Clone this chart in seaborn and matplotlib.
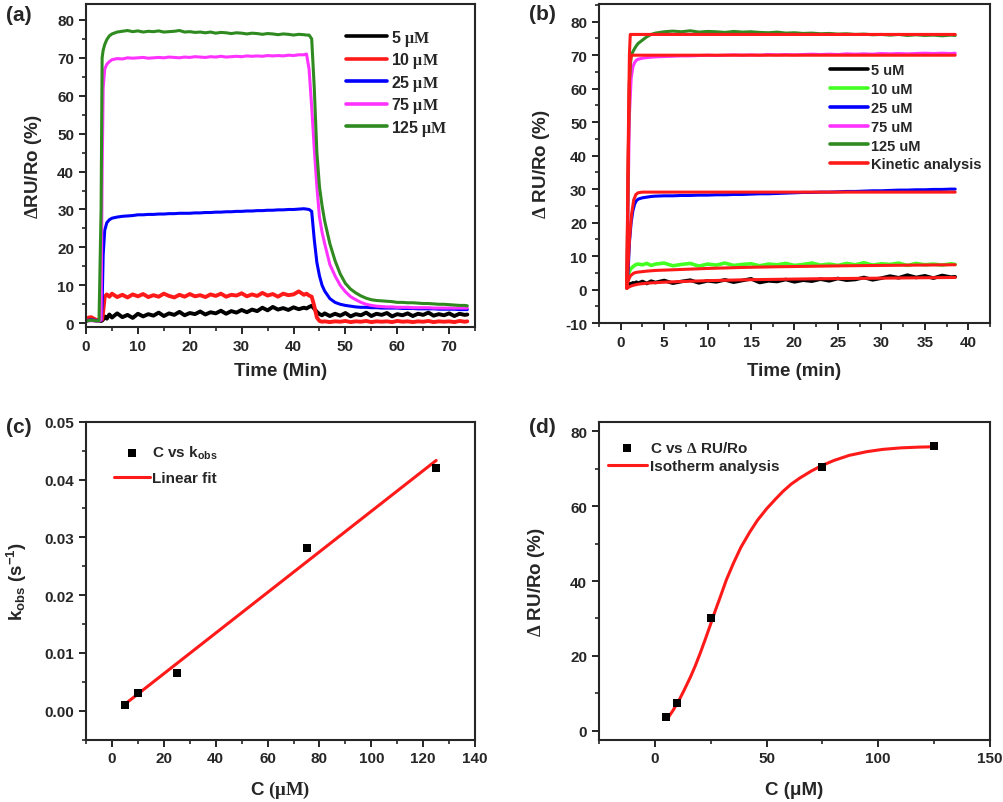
import matplotlib
matplotlib.use("Agg")
import matplotlib.pyplot as plt
import seaborn as sns
from matplotlib.ticker import MultipleLocator, FormatStrFormatter

sns.set_style("ticks")
plt.rcParams['font.family'] = ['Liberation Sans', 'DejaVu Sans']
plt.rcParams['font.weight'] = 'bold'
plt.rcParams['axes.unicode_minus'] = False
plt.rcParams['mathtext.fontset'] = 'custom'
plt.rcParams['mathtext.rm'] = 'Liberation Serif'
plt.rcParams['mathtext.it'] = 'Liberation Serif:italic'
plt.rcParams['mathtext.bf'] = 'Liberation Sans:bold'

# (a) sensorgrams, time in min
t_a = [0.0, 0.5, 1.0, 1.5, 2.0, 2.5, 2.9, 3.1, 3.3, 3.6,
       4.0, 4.5, 5, 6, 7, 8, 9, 10, 11, 12,
       13, 14, 15, 16, 17, 18, 19, 20, 21, 22,
       23, 24, 25, 26, 27, 28, 29, 30, 31, 32,
       33, 34, 35, 36, 37, 38, 39, 40, 41, 42,
       42.5, 43, 43.5, 44, 44.5, 45, 45.5, 46, 47, 48,
       49, 50, 51, 52, 53, 54, 55, 56, 57, 58,
       59, 60, 61, 62, 63, 64, 65, 66, 67, 68,
       69, 70, 71, 72, 73, 73.5]
a_5 = [0.6, 1.2, 1.3, 1.0, 0.7, 0.6, 0.6, 0.7, 1.0, 1.8,
       1.2, 2.3, 1.5, 2.6, 1.6, 2.2, 1.4, 2.5, 1.8, 2.4,
       2.0, 2.8, 1.9, 2.6, 2.2, 3.0, 2.1, 2.7, 2.4, 3.1,
       2.3, 2.9, 2.6, 3.3, 2.5, 3.2, 2.8, 3.5, 2.9, 3.6,
       3.2, 4.1, 3.4, 4.3, 3.6, 4.0, 3.5, 4.2, 3.7, 4.1,
       3.9, 4.3, 4.6, 3.8, 3.0, 2.4, 2.1, 2.6, 1.9, 2.5,
       2.0, 2.7, 1.8, 2.4, 2.1, 2.8, 1.9, 2.5, 2.2, 2.7,
       1.8, 2.4, 2.1, 2.6, 1.9, 2.5, 2.2, 2.8, 2.0, 2.4,
       2.1, 2.6, 1.9, 2.5, 2.2, 2.3]
a_10 = [1.0, 1.5, 1.6, 1.2, 0.9, 0.8, 0.8, 1.0, 3.0, 7.0,
        7.6, 7.0, 7.8, 6.9, 7.5, 6.8, 7.6, 7.1, 7.7, 6.9,
        7.4, 7.0, 7.8, 7.2, 6.8, 7.5, 7.0, 7.7, 7.1, 7.4,
        6.9, 7.6, 7.2, 7.8, 7.0, 7.5, 7.3, 7.9, 7.1, 7.6,
        7.2, 8.0, 7.3, 7.7, 7.0, 7.8, 7.4, 7.6, 8.4, 7.5,
        7.8, 7.3, 7.0, 4.5, 1.5, 0.6, 0.4, 0.5, 0.3, 0.5,
        0.4, 0.6, 0.3, 0.5, 0.4, 0.6, 0.3, 0.5, 0.4, 0.5,
        0.3, 0.6, 0.4, 0.5, 0.3, 0.5, 0.4, 0.6, 0.3, 0.5,
        0.4, 0.5, 0.3, 0.6, 0.4, 0.5]
a_25 = [0.6, 0.8, 0.9, 0.8, 0.7, 0.6, 0.8, 5.0, 18.0, 24.5,
        26.5, 27.3, 27.7, 28.0, 28.2, 28.3, 28.4, 28.6, 28.6, 28.7,
        28.7, 28.8, 28.8, 28.9, 28.9, 29.0, 29.0, 29.0, 29.1, 29.1,
        29.2, 29.2, 29.3, 29.3, 29.4, 29.4, 29.5, 29.5, 29.6, 29.6,
        29.7, 29.7, 29.8, 29.8, 29.9, 29.9, 30.0, 30.0, 30.1, 30.2,
        30.1, 30.0, 29.5, 22.0, 16.0, 12.5, 10.0, 8.5, 6.5, 5.5,
        5.0, 4.7, 4.5, 4.3, 4.2, 4.2, 4.1, 4.1, 4.0, 4.0,
        4.0, 4.0, 3.9, 3.9, 3.9, 3.8, 3.8, 3.8, 3.8, 3.7,
        3.7, 3.7, 3.7, 3.6, 3.6, 3.6]
a_75 = [0.5, 0.6, 0.7, 0.6, 0.5, 0.5, 1.0, 40.0, 62.0, 67.0,
        68.3, 69.0, 69.5, 69.8, 69.7, 70.0, 69.9, 70.0, 70.1, 69.9,
        70.0, 70.1, 70.0, 70.2, 70.1, 70.0, 70.2, 70.1, 70.3, 70.2,
        70.1, 70.3, 70.2, 70.4, 70.2, 70.3, 70.4, 70.3, 70.5, 70.4,
        70.5, 70.4, 70.6, 70.5, 70.6, 70.5, 70.7, 70.6, 70.8, 70.8,
        71.0, 67.0, 57.0, 46.0, 36.0, 28.0, 24.0, 21.0, 15.5, 12.5,
        10.0, 8.3, 7.0, 6.2, 5.5, 5.0, 4.7, 4.5, 4.4, 4.3,
        4.3, 4.2, 4.2, 4.2, 4.1, 4.1, 4.1, 4.1, 4.0, 4.0,
        4.0, 4.0, 4.0, 4.0, 4.0, 4.0]
a_125 = [0.5, 0.7, 0.8, 0.7, 0.6, 0.6, 30.0, 70.0, 72.0, 73.5,
         74.8, 75.8, 76.3, 76.8, 77.0, 77.2, 76.9, 77.1, 76.8, 77.0,
         76.9, 77.1, 76.8, 76.9, 77.0, 77.2, 76.8, 76.9, 76.7, 76.8,
         76.6, 76.8, 76.5, 76.7, 76.6, 76.4, 76.6, 76.5, 76.3, 76.5,
         76.4, 76.2, 76.4, 76.3, 76.1, 76.3, 76.2, 76.0, 76.2, 76.1,
         76.0, 76.0, 75.0, 62.0, 45.0, 36.0, 31.0, 27.0, 21.0, 16.5,
         13.0, 10.5, 9.0, 8.0, 7.2, 6.6, 6.2, 6.0, 5.9, 5.8,
         5.7, 5.5, 5.5, 5.4, 5.4, 5.3, 5.2, 5.2, 5.1, 5.0,
         5.0, 4.9, 4.8, 4.7, 4.7, 4.6]

# (b) association phase + kinetic fits
t_b = [0.7, 0.8, 0.9, 1.0, 1.2, 1.4, 1.6, 1.8, 2.0, 2.5,
       3.0, 3.5, 4, 5, 6, 7, 8, 9, 10, 11,
       12, 13, 14, 15, 16, 17, 18, 19, 20, 21,
       22, 23, 24, 25, 26, 27, 28, 29, 30, 31,
       32, 33, 34, 35, 36, 37, 38, 38.5]
b_5 = [0.5, 1.0, 1.5, 1.8, 1.6, 2.0, 1.7, 2.2, 1.9, 2.4,
       1.8, 2.5, 2.1, 2.7, 1.9, 2.4, 2.8, 2.0, 2.6, 2.3,
       2.9, 2.2, 2.7, 3.2, 2.1, 2.6, 2.4, 3.0, 2.3, 2.8,
       2.5, 3.1, 2.6, 3.3, 2.8, 3.0, 3.6, 2.9, 3.4, 4.0,
       3.5, 4.3, 3.6, 4.1, 3.4, 4.2, 3.7, 3.8]
b_10 = [0.5, 3.0, 4.5, 5.5, 6.3, 6.8, 7.2, 7.5, 7.6, 7.4,
        7.8, 7.2, 7.6, 7.9, 7.1, 7.5, 7.8, 7.0, 7.6, 7.3,
        7.9, 7.2, 7.5, 7.7, 7.1, 7.6, 7.4, 7.8, 7.2, 7.5,
        7.9, 7.3, 7.6, 7.2, 7.8, 7.4, 8.0, 7.3, 7.7, 7.5,
        7.9, 7.2, 7.8, 7.4, 7.6, 7.3, 7.7, 7.5]
b_25 = [0.5, 3.0, 8.0, 14.0, 20.0, 23.5, 25.5, 26.5, 27.0, 27.4,
        27.6, 27.8, 27.9, 28.0, 28.0, 28.1, 28.1, 28.2, 28.2, 28.3,
        28.3, 28.4, 28.4, 28.5, 28.6, 28.6, 28.7, 28.8, 28.9, 29.0,
        29.0, 29.1, 29.1, 29.2, 29.3, 29.3, 29.4, 29.5, 29.5, 29.6,
        29.7, 29.7, 29.8, 29.8, 29.9, 29.9, 30.0, 30.0]
b_75 = [0.5, 15.0, 35.0, 52.0, 63.0, 66.5, 67.8, 68.5, 68.8, 69.1,
        69.3, 69.4, 69.5, 69.6, 69.7, 69.8, 69.8, 69.9, 70.0, 69.9,
        70.0, 70.1, 70.0, 70.1, 70.0, 70.2, 70.1, 70.2, 70.1, 70.2,
        70.3, 70.2, 70.3, 70.2, 70.4, 70.3, 70.4, 70.3, 70.5, 70.4,
        70.5, 70.4, 70.5, 70.6, 70.5, 70.6, 70.5, 70.6]
b_125 = [0.5, 20.0, 45.0, 62.0, 70.0, 71.0, 72.0, 72.8, 73.5, 74.5,
         75.5, 76.2, 76.6, 77.0, 77.2, 77.0, 77.3, 76.9, 77.1, 77.0,
         76.8, 77.1, 76.9, 77.0, 76.8, 76.7, 76.9, 76.6, 76.7, 76.5,
         76.6, 76.4, 76.5, 76.3, 76.4, 76.2, 76.3, 76.1, 76.2, 76.0,
         76.2, 75.9, 76.1, 75.9, 76.0, 75.8, 76.0, 75.9]
t_fit = [0.7, 0.85, 1.0, 1.1, 1.25, 1.5, 1.75, 2.0, 2.5, 3,
         4, 5, 7, 10, 14, 18, 22, 26, 30, 34, 38.5]
fit_5 = [0.3, 0.6, 0.8, 0.95, 1.1, 1.3, 1.45, 1.6, 1.75, 1.9,
         2.05, 2.2, 2.4, 2.65, 2.9, 3.05, 3.2, 3.3, 3.4, 3.5, 3.6]
fit_10 = [0.5, 2.5, 3.5, 4.0, 4.4, 4.9, 5.1, 5.2, 5.35, 5.5,
          5.7, 5.8, 6.0, 6.3, 6.6, 6.8, 6.95, 7.1, 7.2, 7.3, 7.4]
fit_25 = [0.5, 7.5, 14.5, 18.0, 22.5, 26.8, 28.4, 28.9, 29.1, 29.1,
          29.1, 29.1, 29.1, 29.1, 29.1, 29.1, 29.1, 29.1, 29.1, 29.1, 29.1]
fit_75 = [0.6, 35.0, 62.0, 68.0, 70.0, 70.0, 70.0, 70.0, 70.0, 70.0,
          70.0, 70.0, 70.0, 70.0, 70.0, 70.0, 70.0, 70.0, 70.0, 70.0, 70.0]
fit_125 = [0.6, 40.0, 70.0, 76.2, 76.2, 76.2, 76.2, 76.2, 76.2, 76.2,
           76.2, 76.2, 76.2, 76.2, 76.2, 76.2, 76.2, 76.2, 76.2, 76.2, 76.2]

# (c) kobs vs concentration
conc = [5, 10, 25, 75, 125]
kobs = [0.00098, 0.0031, 0.0066, 0.0282, 0.042]
lin_c = [5, 125]
lin_k = [0.00115, 0.0433]

# (d) equilibrium response vs concentration
resp = [3.7, 7.5, 30.0, 70.5, 76.0]
iso_c = [5.5, 8, 10.7, 13, 15.9, 18, 20.3, 22.5, 24.8, 27,
         29.2, 32, 35.2, 38.5, 42.6, 46, 50, 54, 57.4, 61,
         64.8, 70, 74.5, 80, 87, 95, 102, 110, 118, 125]
iso_v = [3.1, 5.3, 8.0, 10.7, 14.3, 17.2, 20.7, 24.3, 28.2, 32.0,
         35.6, 40.3, 44.8, 49.0, 53.2, 56.3, 59.3, 61.9, 64.0, 65.9,
         67.5, 69.4, 70.8, 72.2, 73.6, 74.6, 75.2, 75.6, 75.8, 75.9]

BLACK, RED, BLUE, MAG, GREEN, LIME = '#000000', '#ff1a1a', '#0000ff', '#ff33ff', '#2f8a20', '#44ff22'
LW = 2.2


def style_axes(ax, xlim, xmaj, xmin, ylim, ymaj, ymin):
    ax.set_xlim(*xlim)
    ax.set_ylim(*ylim)
    ax.xaxis.set_major_locator(MultipleLocator(xmaj))
    ax.xaxis.set_minor_locator(MultipleLocator(xmin))
    ax.yaxis.set_major_locator(MultipleLocator(ymaj))
    ax.yaxis.set_minor_locator(MultipleLocator(ymin))
    for s in ax.spines.values():
        s.set_visible(True)
        s.set_linewidth(1.5)
    ax.tick_params(which='major', direction='out', length=5, width=1.4, labelsize=11,
                   top=False, right=False)
    ax.tick_params(which='minor', direction='out', length=3, width=1.2, top=False, right=False)
    for lab in ax.get_xticklabels() + ax.get_yticklabels():
        lab.set_fontweight('bold')


def set_labels(ax, xl, yl, xpos, ypos, size=13.5):
    ax.set_xlabel(xl, fontsize=size, fontweight='bold')
    ax.set_ylabel(yl, fontsize=size, fontweight='bold')
    ax.xaxis.set_label_coords(0.5, xpos)
    ax.yaxis.set_label_coords(ypos, 0.5)
    ax.xaxis.label.set_va('center')
    ax.yaxis.label.set_va('center')


fig = plt.figure(figsize=(10.04, 8.03), dpi=100)
ax_a = fig.add_axes([0.0857, 0.5915, 0.3875, 0.4023])
ax_b = fig.add_axes([0.5966, 0.5965, 0.3894, 0.3973])
ax_c = fig.add_axes([0.0857, 0.0776, 0.3875, 0.3960])
ax_d = fig.add_axes([0.5966, 0.0776, 0.3894, 0.3960])

# (a)
def mu_label(n):
    return r'$\mathbf{' + n + r'}\ \mathrm{\mu M}$'

for y, c, lab, w in [(a_5, BLACK, mu_label('5'), 2.8), (a_10, RED, mu_label('10'), 2.8),
                     (a_25, BLUE, mu_label('25'), LW), (a_75, MAG, mu_label('75'), LW),
                     (a_125, GREEN, mu_label('125'), LW)]:
    sns.lineplot(x=t_a, y=y, ax=ax_a, color=c, lw=w, label=lab)
style_axes(ax_a, (0, 75), 10, 5, (-1, 84.2), 10, 5)
set_labels(ax_a, 'Time (Min)', r'$\mathrm{\Delta}$RU/Ro (%)', -0.135, -0.134)
leg = ax_a.legend(loc='upper left', bbox_to_anchor=(0.668, 0.927), frameon=False, borderaxespad=0,
                  borderpad=0, handlelength=2.6, handletextpad=0.2, labelspacing=0.16,
                  prop={'size': 11.5, 'weight': 'bold'})
for h in leg.get_lines():
    h.set_linewidth(2.6)

# (b)
for y, c, lab, w in [(b_5, BLACK, '5 uM', 2.6), (b_10, LIME, '10 uM', 2.6), (b_25, BLUE, '25 uM', LW),
                     (b_75, MAG, '75 uM', LW), (b_125, GREEN, '125 uM', LW)]:
    sns.lineplot(x=t_b, y=y, ax=ax_b, color=c, lw=w, label=lab)
for i, y in enumerate([fit_5, fit_10, fit_25, fit_75, fit_125]):
    sns.lineplot(x=t_fit, y=y, ax=ax_b, color=RED, lw=LW,
                 label='Kinetic analysis' if i == 0 else None)
style_axes(ax_b, (-2.5, 42.5), 5, 2.5, (-10, 85.3), 10, 5)
set_labels(ax_b, 'Time (min)', r'$\mathrm{\Delta}$ RU/Ro (%)', -0.149, -0.147)
leg = ax_b.legend(loc='upper left', bbox_to_anchor=(0.592, 0.814), frameon=False, borderaxespad=0,
                  borderpad=0, handlelength=2.6, handletextpad=0.15, labelspacing=0.33,
                  prop={'size': 10.5, 'weight': 'bold'})
for h in leg.get_lines():
    h.set_linewidth(2.6)

# (c)
sns.scatterplot(x=conc, y=kobs, ax=ax_c, marker='s', s=28, color=BLACK, edgecolor=BLACK,
                linewidth=0, label=r'C vs $\mathbf{k_{obs}}$', zorder=3)
sns.lineplot(x=lin_c, y=lin_k, ax=ax_c, color=RED, lw=LW, label='Linear fit')
style_axes(ax_c, (-10, 140), 20, 10, (-0.005, 0.05), 0.01, 0.005)
ax_c.yaxis.set_major_formatter(FormatStrFormatter('%.2f'))
set_labels(ax_c, r'$\mathbf{C}\ \mathrm{(\mu M)}$', r'$\mathbf{k_{obs}\ (s^{-1})}$', -0.157, -0.177)
ax_c.legend(loc='upper left', bbox_to_anchor=(0.071, 0.93), frameon=False, borderaxespad=0,
            borderpad=0, handlelength=2.4, handletextpad=0.1, labelspacing=0.65,
            scatterpoints=1, prop={'size': 11, 'weight': 'bold'})

# (d)
sns.scatterplot(x=conc, y=resp, ax=ax_d, marker='s', s=28, color=BLACK, edgecolor=BLACK,
                linewidth=0, label=r'C vs $\mathrm{\Delta}$ RU/Ro', zorder=3)
sns.lineplot(x=iso_c, y=iso_v, ax=ax_d, color=RED, lw=LW, label='Isotherm analysis')
style_axes(ax_d, (-25, 150), 50, 25, (-2.4, 82.6), 20, 10)
set_labels(ax_d, 'C (μM)', r'$\mathrm{\Delta}$ RU/Ro (%)', -0.158, -0.159)
ax_d.legend(loc='upper left', bbox_to_anchor=(0.022, 0.943), frameon=False, borderaxespad=0,
            borderpad=0, handlelength=2.6, handletextpad=0.15, labelspacing=0.3,
            scatterpoints=1, prop={'size': 11, 'weight': 'bold'})

for txt, x, y in [('(a)', 19, 15.5), ('(b)', 542, 14.5), ('(c)', 19, 427.5), ('(d)', 542, 427.5)]:
    fig.text(x / 1004, 1 - y / 803, txt, ha='center', va='center', fontsize=15, fontweight='bold')

fig.savefig('out.png', dpi=100)
